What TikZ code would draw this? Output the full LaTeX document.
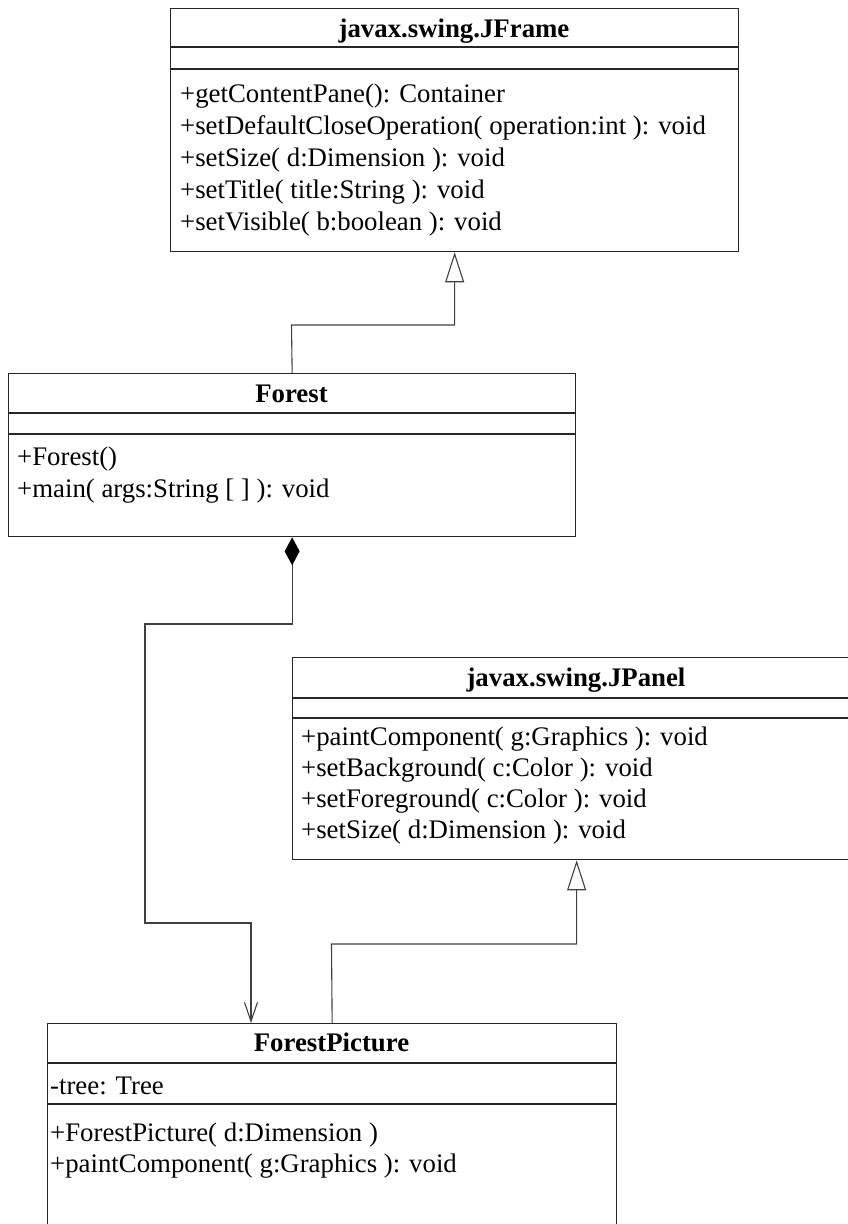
\documentclass[tikz,border=0pt]{standalone}
\usepackage{fontspec}
\setmainfont{Liberation Serif}
\usetikzlibrary{arrows.meta}
\begin{document}
\begin{tikzpicture}[x=1pt,y=-1pt,
  umlbox/.style={draw=black!85, line width=1.3pt, rectangle, inner sep=0pt, anchor=north west},
  sep/.style={draw=black!85, line width=1.1pt},
  title/.style={font=\fontsize{26.8}{27}\selectfont\bfseries, inner sep=0pt, anchor=base},
  member/.style={font=\fontsize{26.8}{27}\selectfont, inner sep=0pt, anchor=base west},
  conn/.style={draw=black!75, line width=1.1pt},
  gen/.style={conn, -{Triangle[open,length=30pt,width=19pt,fill=white]}},
  comp/.style={conn, {Diamond[length=28pt,width=15pt,black]}-{Straight Barb[length=19pt,width=13pt]}},
]
\useasboundingbox (0,0) rectangle (848,1224);
\clip (0,0) rectangle (848,1224);

% JFrame
\node[umlbox, minimum width=568pt, minimum height=243pt] (jframe) at (170,8) {};
\draw[sep] (170,47) -- (738,47);
\draw[sep] (170,69) -- (738,69);
\node[title] (jft) at (454,37) {javax.swing.JFrame};
\node[member] (jf1) at (180,102) {+getContentPane(): Container};
\node[member] (jf2) at (180,134) {+setDefaultCloseOperation( operation:int ): void};
\node[member] (jf3) at (180,166) {+setSize( d:Dimension ): void};
\node[member] (jf4) at (180,198) {+setTitle( title:String ): void};
\node[member] (jf5) at (180,230) {+setVisible( b:boolean ): void};

% Forest
\node[umlbox, minimum width=567pt, minimum height=163pt] (forest) at (8,373) {};
\draw[sep] (8,413) -- (575,413);
\draw[sep] (8,434) -- (575,434);
\node[title] (ft) at (291.5,402) {Forest};
\node[member] (f1) at (17,465) {+Forest()};
\node[member] (f2) at (17,497) {+main( args:String [ ] ): void};

% JPanel
\node[umlbox, minimum width=568pt, minimum height=202pt] (jpanel) at (292,657) {};
\draw[sep] (292,698) -- (860,698);
\draw[sep] (292,718) -- (860,718);
\node[title] (jpt) at (576,686) {javax.swing.JPanel};
\node[member] (jp1) at (301,745) {+paintComponent( g:Graphics ): void};
\node[member] (jp2) at (301,776) {+setBackground( c:Color ): void};
\node[member] (jp3) at (301,807) {+setForeground( c:Color ): void};
\node[member] (jp4) at (301,838) {+setSize( d:Dimension ): void};

% ForestPicture
\node[umlbox, minimum width=569pt, minimum height=230pt] (fp) at (47,1023) {};
\draw[sep] (47,1063) -- (616,1063);
\draw[sep] (47,1104) -- (616,1104);
\node[title] (fpt) at (331.5,1051) {ForestPicture};
\node[member] (fp1) at (50,1094) {-tree: Tree};
\node[member] (fp2) at (50,1141) {+ForestPicture( d:Dimension )};
\node[member] (fp3) at (50,1172) {+paintComponent( g:Graphics ): void};

% connectors
\coordinate (g1) at (291.5,325);
\draw[gen] (forest.north) -- (g1) -| (jframe.south);

\coordinate (a1) at (145,624);
\coordinate (a2) at (251,923);
\draw[comp] (forest.south) |- (a1) |- (a2) -- (a2 |- fp.north);

\coordinate (g2) at (331.5,944);
\draw[gen] (fp.north) -- (g2) -| (jpanel.south);
\end{tikzpicture}
\end{document}
